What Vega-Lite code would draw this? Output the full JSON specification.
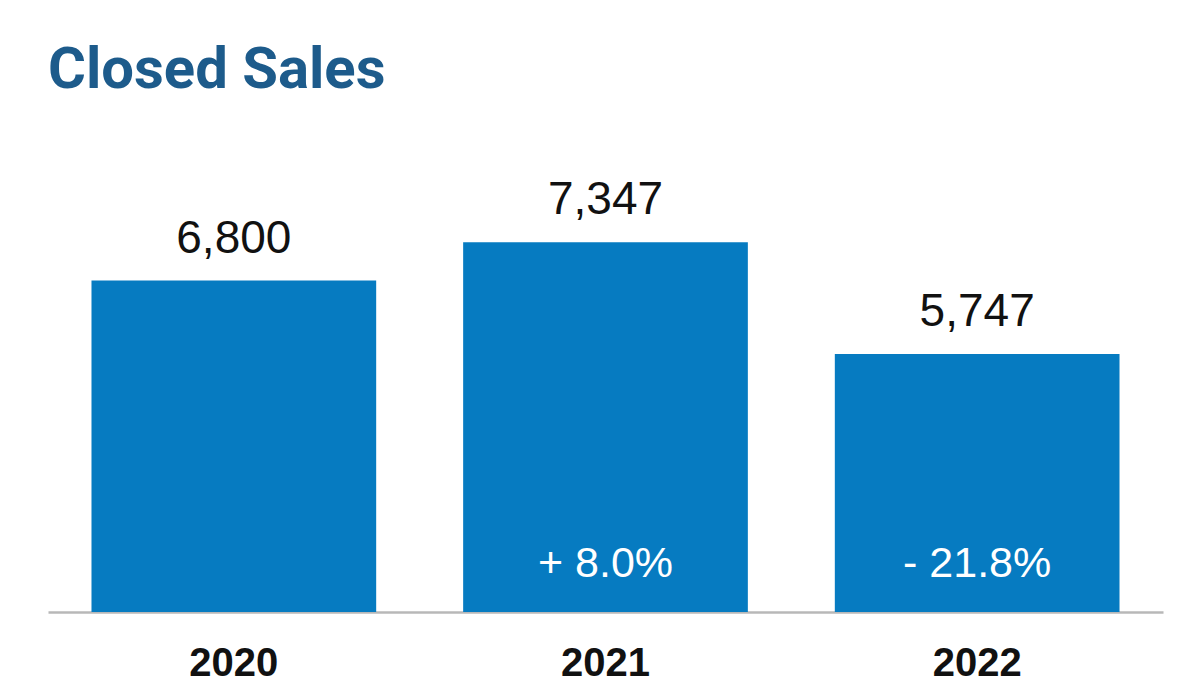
{
  "$schema": "https://vega.github.io/schema/vega-lite/v6.json",
  "width": 1115,
  "height": 482,
  "autosize": {"type": "none"},
  "padding": {"left": 48, "top": 130, "right": 37, "bottom": 78},
  "background": "white",
  "title": {
    "text": "Closed Sales",
    "anchor": "start",
    "orient": "top",
    "baseline": "alphabetic",
    "offset": -16,
    "font": "Roboto",
    "fontSize": 58,
    "fontWeight": "bold",
    "color": "#1d5b8b"
  },
  "data": {
    "values": [
      {"year": "2020", "sales": 6800, "change": ""},
      {"year": "2021", "sales": 7347, "change": "+ 8.0%"},
      {"year": "2022", "sales": 5747, "change": "- 21.8%"}
    ]
  },
  "config": {"view": {"stroke": null}},
  "encoding": {
    "x": {
      "field": "year",
      "type": "nominal",
      "sort": null,
      "scale": {"paddingInner": 0.234, "paddingOuter": 0.117},
      "axis": {
        "title": null,
        "ticks": false,
        "domainColor": "#b8b8b8",
        "domainWidth": 2.5,
        "labelAngle": 0,
        "labelFont": "Liberation Sans",
        "labelFontWeight": "bold",
        "labelFontSize": 40,
        "labelColor": "#111111",
        "labelBaseline": "alphabetic",
        "labelPadding": 63
      }
    }
  },
  "layer": [
    {
      "mark": {"type": "bar", "color": "#067bc1"},
      "encoding": {
        "y": {
          "field": "sales",
          "type": "quantitative",
          "scale": {"domain": [2058, 8953], "zero": false, "nice": false},
          "axis": null
        },
        "y2": {"datum": 2058}
      }
    },
    {
      "mark": {
        "type": "text",
        "baseline": "alphabetic",
        "dy": -28,
        "font": "Liberation Sans",
        "fontSize": 46,
        "color": "#111111"
      },
      "encoding": {
        "y": {"field": "sales", "type": "quantitative"},
        "text": {"field": "sales", "type": "quantitative", "format": ","}
      }
    },
    {
      "mark": {
        "type": "text",
        "baseline": "alphabetic",
        "dy": -35,
        "font": "Liberation Sans",
        "fontSize": 43,
        "color": "#ffffff"
      },
      "encoding": {
        "y": {"datum": 2058},
        "text": {"field": "change", "type": "nominal"}
      }
    }
  ]
}
